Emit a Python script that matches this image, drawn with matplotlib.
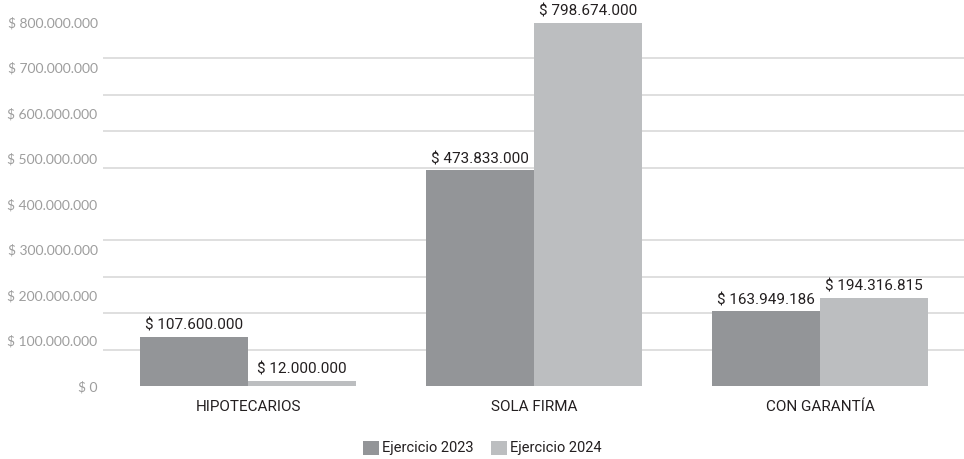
import matplotlib
matplotlib.use("Agg")
import matplotlib.pyplot as plt
import numpy as np
from matplotlib.ticker import MultipleLocator, FuncFormatter
from matplotlib.patches import Patch

categories = ["HIPOTECARIOS", "SOLA FIRMA", "CON GARANTÍA"]
series_names = ["Ejercicio 2023", "Ejercicio 2024"]
values_2023 = [107600000, 473833000, 163949186]
values_2024 = [12000000, 798674000, 194316815]
colors = ["#939598", "#bcbec0"]

plt.rcParams["font.family"] = ["Lato", "DejaVu Sans"]
narrow = ["Roboto", "DejaVu Sans"]

def fmt(v):
    return "$ " + f"{int(round(v)):,}".replace(",", ".")

fig = plt.figure(figsize=(9.64, 4.59), dpi=100)
ax = fig.add_axes([0.107, 0.159, 0.893, 0.793])

x = np.arange(len(categories))
w = 0.378
b1 = ax.bar(x - w / 2, values_2023, w, color=colors[0], zorder=3)
b2 = ax.bar(x + w / 2, values_2024, w, color=colors[1], zorder=3)

for bars, vals in ((b1, values_2023), (b2, values_2024)):
    for rect, v in zip(bars, vals):
        ax.annotate(fmt(v), (rect.get_x() + rect.get_width() / 2, v),
                    xytext=(0, 3), textcoords="offset points",
                    ha="center", va="bottom", fontsize=11,
                    family=narrow, color="#231f20")

ax.set_xlim(-0.507, 2.503)
ax.set_ylim(0, 800000000)
ax.yaxis.set_major_locator(MultipleLocator(100000000))
ax.yaxis.set_minor_locator(MultipleLocator(80000000))
ax.yaxis.set_major_formatter(FuncFormatter(lambda v, p: fmt(v)))
ax.grid(axis="y", which="minor", color="#d9d9d9", linewidth=1.2, zorder=0)
ax.tick_params(axis="y", which="both", length=0, pad=4,
               labelcolor="#9d9d9d", labelsize=10)
ax.set_xticks(x)
ax.set_xticklabels(categories, family=narrow, fontsize=11, color="#231f20")
ax.tick_params(axis="x", length=0, pad=10)
for s in ax.spines.values():
    s.set_visible(False)

handles = [Patch(facecolor=c, edgecolor="none") for c in colors]
fig.legend(handles, series_names, loc="center", bbox_to_anchor=(0.5, 0.024),
           ncol=2, frameon=False, prop={"family": narrow, "size": 10.5},
           handlelength=1.1, handleheight=1.1, handletextpad=0.2,
           columnspacing=1.2, labelcolor="#231f20")

fig.savefig("out.png", dpi=100)
